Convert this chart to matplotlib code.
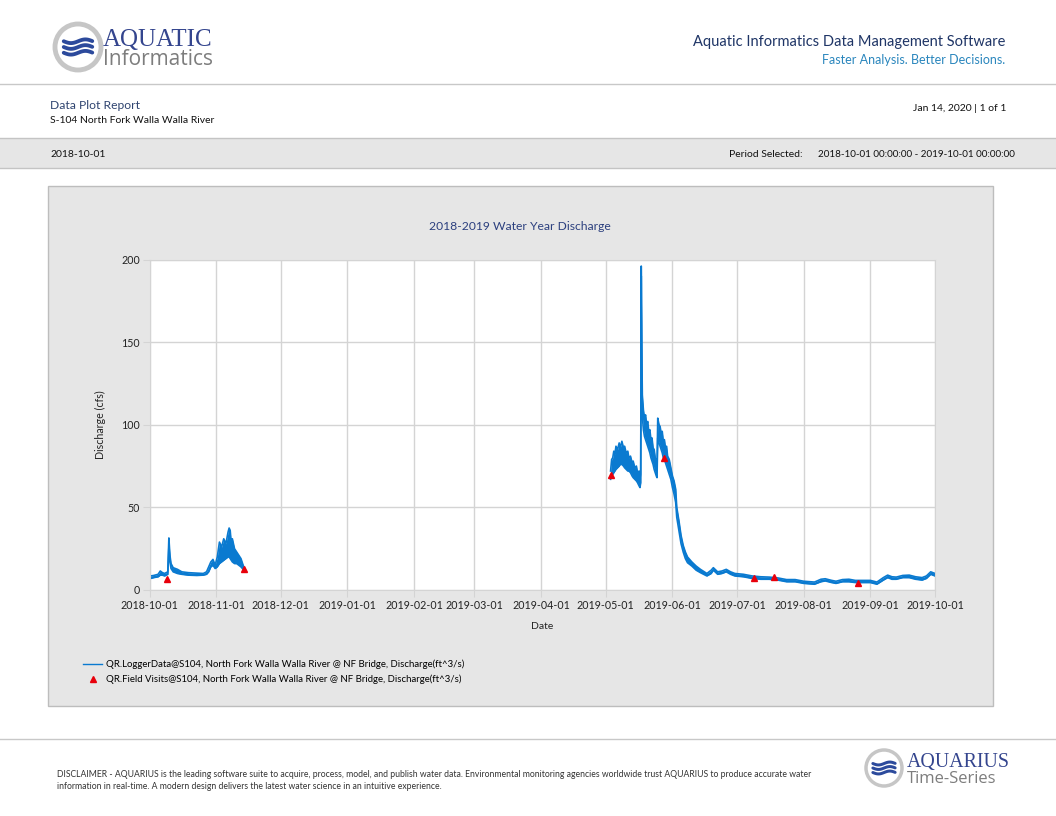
import numpy as np
import pandas as pd
import matplotlib
matplotlib.use("Agg")
import matplotlib.pyplot as plt
import matplotlib.dates as mdates
from matplotlib.patches import Rectangle, Circle
from matplotlib.lines import Line2D

plt.rcParams['font.family'] = ['Lato', 'DejaVu Sans']

# logger data read off the picture as a low/high envelope of the noisy trace
# autumn 2018 piece
autumn_times = [
    "2018-10-01 12:00", "2018-10-03", "2018-10-05", "2018-10-06", "2018-10-07",
    "2018-10-08", "2018-10-09 12:00", "2018-10-10 00:00", "2018-10-10 12:00",
    "2018-10-11", "2018-10-12", "2018-10-14", "2018-10-16", "2018-10-19",
    "2018-10-23", "2018-10-26",
    "2018-10-27 12:00", "2018-10-28 12:00", "2018-10-29 12:00", "2018-10-30 12:00",
    "2018-10-31 12:00", "2018-11-01 12:00", "2018-11-02 12:00", "2018-11-03 12:00",
    "2018-11-04 12:00", "2018-11-05 12:00", "2018-11-06 12:00", "2018-11-07 00:00",
    "2018-11-07 12:00", "2018-11-08 00:00", "2018-11-08 12:00", "2018-11-09 12:00",
    "2018-11-10 12:00", "2018-11-11 12:00", "2018-11-12 12:00", "2018-11-13 12:00",
    "2018-11-14 04:00",
]
autumn_low = [
    7.0, 7.5, 8.0, 9.0, 9.0, 8.5, 9.5, 26.0, 17.0, 13.0, 11.0, 10.0, 9.5, 9.0,
    8.8, 9.0,
    9.5, 11, 14, 15, 13, 14, 16, 17, 18, 19, 20, 20, 19, 18, 17, 16, 16, 15,
    14, 12.5, 11.5,
]
autumn_high = [
    8.5, 8.8, 9.5, 11.5, 10.5, 10.0, 11.0, 31.5, 21.0, 16.0, 13.5, 12.5, 11.0,
    10.5, 10.2, 10.0,
    11, 14, 17, 18.5, 15, 20, 29, 26, 31, 28, 35, 37.5, 36, 28, 31, 25, 23, 21,
    19, 15, 13,
]

# spring/summer 2019 piece
spring_times = [
    "2019-05-03 06:00", "2019-05-03 18:00", "2019-05-04 06:00", "2019-05-04 18:00",
    "2019-05-05 06:00", "2019-05-05 18:00", "2019-05-06 12:00", "2019-05-07 06:00",
    "2019-05-07 18:00", "2019-05-08 12:00", "2019-05-09 06:00", "2019-05-09 18:00",
    "2019-05-10 12:00", "2019-05-11 06:00", "2019-05-11 18:00", "2019-05-12 12:00",
    "2019-05-13 06:00", "2019-05-13 18:00", "2019-05-14 12:00", "2019-05-15 06:00",
    "2019-05-15 18:00", "2019-05-16 12:00", "2019-05-16 22:00", "2019-05-17 06:00",
    "2019-05-17 12:00", "2019-05-17 18:00", "2019-05-18 00:00", "2019-05-18 12:00",
    "2019-05-19 00:00", "2019-05-19 12:00", "2019-05-20 00:00", "2019-05-20 12:00",
    "2019-05-21 00:00", "2019-05-21 12:00", "2019-05-22 00:00", "2019-05-22 12:00",
    "2019-05-23 00:00", "2019-05-23 12:00", "2019-05-24 00:00", "2019-05-24 12:00",
    "2019-05-24 20:00",
    "2019-05-25 04:00", "2019-05-25 18:00", "2019-05-26 06:00", "2019-05-26 18:00",
    "2019-05-27 06:00", "2019-05-27 18:00", "2019-05-28 06:00", "2019-05-28 18:00",
    "2019-05-29 06:00", "2019-05-29 18:00", "2019-05-30 12:00", "2019-05-31 06:00",
    "2019-06-01 00:00", "2019-06-01 18:00", "2019-06-02 12:00",
    "2019-06-03", "2019-06-04", "2019-06-05", "2019-06-06", "2019-06-07",
    "2019-06-08", "2019-06-10", "2019-06-12", "2019-06-14", "2019-06-17",
    "2019-06-19", "2019-06-20", "2019-06-22", "2019-06-24", "2019-06-26",
    "2019-06-28", "2019-06-30",
    "2019-07-04", "2019-07-08", "2019-07-12", "2019-07-16", "2019-07-20",
    "2019-07-24", "2019-07-28", "2019-08-01", "2019-08-06", "2019-08-09",
    "2019-08-11", "2019-08-14", "2019-08-16", "2019-08-19", "2019-08-22",
    "2019-08-25", "2019-08-28", "2019-09-01", "2019-09-04", "2019-09-07",
    "2019-09-09", "2019-09-11", "2019-09-13", "2019-09-16", "2019-09-19",
    "2019-09-22", "2019-09-25", "2019-09-27", "2019-09-29", "2019-10-01",
]
spring_low = [
    67, 69, 70, 71, 72, 73, 74, 75, 76, 76, 75, 74, 73, 72, 72, 71, 69, 68, 67,
    66, 65, 63, 62, 65,
    190, 130, 105, 97, 93, 91, 89, 87, 85, 83, 80, 78, 76, 73, 71, 69, 68,
    92, 89, 87, 85, 83, 80, 79, 77, 75, 73, 70, 67, 62, 58, 53,
    44, 36, 28, 23, 19, 16.5, 14.5, 12, 10.5, 8.5, 10, 12, 9.5, 10, 11, 9.5, 8.5,
    8, 7, 6.5, 6.5, 6, 5, 5, 4, 3.5, 5, 5.5, 4.5, 4, 5, 5, 4.5, 4.5, 4.5, 3.5,
    6, 7.5, 6.5, 6.5, 7.5, 7.5, 6.5, 6, 7, 9.5, 8.5,
]
spring_high = [
    72, 79, 80, 84, 82, 87, 85, 89, 86, 90, 86, 87, 83, 84, 80, 81, 77, 78, 74,
    75, 71, 72, 68, 70,
    196, 150, 118, 109, 104, 106, 100, 102, 96, 97, 91, 92, 86, 85, 80, 78, 74,
    104, 100, 99, 95, 96, 90, 91, 86, 87, 81, 79, 74, 69, 66, 61,
    50, 42, 33, 27, 23, 20, 17, 14.5, 12.5, 10, 12, 13.5, 11, 11.5, 12.5, 11, 10,
    9.5, 8.5, 8, 7.8, 7.3, 6.3, 6.3, 5.3, 4.8, 6.5, 6.8, 5.8, 5.3, 6.3, 6.5, 5.8,
    5.8, 5.8, 4.8, 7.5, 9, 8, 7.8, 8.8, 9, 8, 7.5, 8.5, 11, 10,
]

visit_times = ["2018-10-09", "2018-11-14", "2019-05-03 12:00", "2019-05-28 06:00",
               "2019-07-09", "2019-07-18", "2019-08-26"]
visit_values = [6.5, 12.5, 69.5, 80.0, 7.1, 8.1, 4.4]

month_ticks = pd.date_range("2018-10-01", "2019-10-01", freq="MS")
y_ticks = [0, 50, 100, 150, 200]

logger_series = "QR.LoggerData@S104, North Fork Walla Walla River @ NF Bridge, Discharge(ft^3/s)"
visit_series = "QR.Field Visits@S104, North Fork Walla Walla River @ NF Bridge, Discharge(ft^3/s)"

NAVY = "#2b3f7e"
LINE_BLUE = "#0a7ad0"
RED = "#e8000b"
GRID = "#d4d4d4"
PANEL = "#e6e6e6"
W, H = 1056, 816

fig = plt.figure(figsize=(W / 100, H / 100), dpi=100)

# page layer in pixel coordinates
bg = fig.add_axes([0, 0, 1, 1])
bg.set_xlim(0, W)
bg.set_ylim(H, 0)
bg.axis("off")


def logo(cx, cy, r, lw_ring):
    bg.add_patch(Circle((cx, cy), r, facecolor="white", edgecolor="#c6c6c6", lw=lw_ring))
    xs = np.linspace(cx - r * 0.62, cx + r * 0.62, 60)
    for dy in (-0.25, 0.0, 0.25):
        ys = cy + dy * r + 0.08 * r * np.sin((xs - xs[0]) / (r * 0.2))
        bg.plot(xs, ys, color="#2c4a9c", lw=r * 0.12, solid_capstyle="round")


# header
logo(78, 47, 23, 3.5)
bg.text(103, 46, "AQUATIC", fontsize=18, family="Liberation Serif", color="#34458e", va="baseline")
bg.text(103, 65, "Informatics", fontsize=15, family="Open Sans", color="#7d7d7d", va="baseline")
bg.text(1005, 46, "Aquatic Informatics Data Management Software", fontsize=10.5,
        color="#1f3566", ha="right", va="baseline")
bg.text(1005, 64, "Faster Analysis. Better Decisions.", fontsize=9,
        color="#2a86bd", ha="right", va="baseline")
bg.plot([0, W], [84, 84], color="#c8c8c8", lw=1)

small = dict(fontsize=7.5, color="#111111", va="baseline")
bg.text(50, 109, "Data Plot Report", fontsize=8.7, color="#2f4470", va="baseline")
bg.text(50, 123, "S-104 North Fork Walla Walla River", **small)
bg.text(1006, 111, "Jan 14, 2020 | 1 of 1", ha="right", **small)

bg.add_patch(Rectangle((-2, 138), W + 4, 30, facecolor=PANEL, edgecolor="#c4c4c4", lw=1))
bg.text(50, 157, "2018-10-01", **small)
bg.text(729, 157, "Period Selected:", **small)
bg.text(1015, 157, "2018-10-01 00:00:00 - 2019-10-01 00:00:00", ha="right",
        fontsize=7.1, color="#111111", va="baseline")

# chart panel
bg.add_patch(Rectangle((48, 186), 945, 520, facecolor=PANEL, edgecolor="#bdbdbd", lw=1))
bg.text(520, 230, "2018-2019 Water Year Discharge", fontsize=8.7, color=NAVY, ha="center", va="baseline")

# footer
bg.plot([0, W], [739, 739], color="#c8c8c8", lw=1)
bg.text(57, 777, "DISCLAIMER - AQUARIUS is the leading software suite to acquire, process, model, and publish water data. "
        "Environmental monitoring agencies worldwide trust AQUARIUS to produce accurate water",
        fontsize=6.2, color="#333333", va="baseline")
bg.text(57, 789, "information in real-time. A modern design delivers the latest water science in an intuitive experience.",
        fontsize=6.2, color="#333333", va="baseline")
logo(884, 768, 18, 2.5)
bg.text(907, 767, "AQUARIUS", fontsize=14.3, family="Liberation Serif", color="#34458e", va="baseline")
bg.text(907, 783, "Time-Series", fontsize=12, family="Open Sans", color="#7d7d7d", va="baseline")

# data axes
left, right, top, bottom = 149.5, 935, 259.5, 590
ax = fig.add_axes([left / W, 1 - bottom / H, (right - left) / W, (bottom - top) / H])
ax.set_facecolor("white")

for times, low, high in [(autumn_times, autumn_low, autumn_high),
                         (spring_times, spring_low, spring_high)]:
    t = pd.to_datetime(times, format="ISO8601")
    ax.fill_between(t, low, high, color=LINE_BLUE, lw=0)
    ax.plot(t, low, color=LINE_BLUE, lw=1.2)
    ax.plot(t, high, color=LINE_BLUE, lw=1.2)
ax.plot(pd.to_datetime(visit_times, format="ISO8601"), visit_values, ls="none",
        marker="^", ms=5, color=RED, mec=RED)

ax.set_xlim(pd.Timestamp("2018-10-01"), pd.Timestamp("2019-10-01"))
ax.set_ylim(0, 200)
ax.set_xticks(month_ticks)
ax.xaxis.set_major_formatter(mdates.DateFormatter("%Y-%m-%d"))
ax.set_yticks(y_ticks)
ax.grid(True, color=GRID, lw=1)
ax.set_axisbelow(True)
for s in ax.spines.values():
    s.set_color(GRID)
ax.tick_params(length=5, color=GRID, labelsize=7.7, labelcolor="#222222", pad=2)
ax.set_xlabel("Date", fontsize=7.5, color="#222222", labelpad=8)
ax.set_ylabel("Discharge (cfs)", fontsize=7.7, color="#222222", labelpad=11)

handles = [Line2D([], [], color=LINE_BLUE, lw=1),
           Line2D([], [], ls="none", marker="^", ms=4.5, color=RED)]
fig.legend(handles, [logger_series, visit_series], loc="upper left",
           bbox_to_anchor=(79 / W, 1 - 656 / H), frameon=False, fontsize=6.95,
           handlelength=2.0, handletextpad=0.4, labelspacing=0.55, borderaxespad=0)

fig.savefig("out.png", dpi=100)
